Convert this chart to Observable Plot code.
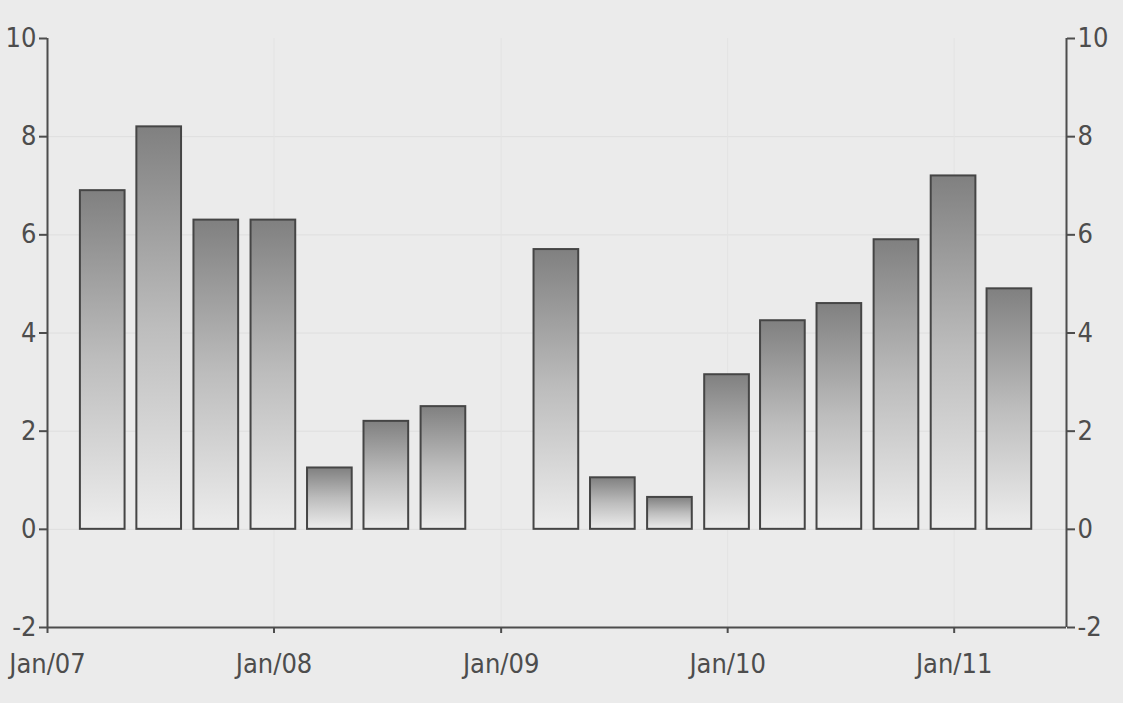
<!DOCTYPE html>
<html>
<head>
<meta charset="utf-8">
<script src="https://cdn.jsdelivr.net/npm/d3@7"></script>
<script src="https://cdn.jsdelivr.net/npm/@observablehq/plot@0.6"></script>
<style>
  html, body { margin: 0; padding: 0; background: #ebebeb; }
  #chart svg { display: block; }
</style>
</head>
<body>
<div id="chart"></div>
<script>
// Quarter-end dates (Dec 2008 has no bar)
const quarters = [
  "2007-03-31", "2007-06-30", "2007-09-30", "2007-12-31",
  "2008-03-31", "2008-06-30", "2008-09-30",
  "2009-03-31", "2009-06-30", "2009-09-30", "2009-12-31",
  "2010-03-31", "2010-06-30", "2010-09-30", "2010-12-31",
  "2011-03-31"
];
const values = [6.9, 8.2, 6.3, 6.3, 1.25, 2.2, 2.5, 5.7, 1.05, 0.65, 3.15, 4.25, 4.6, 5.9, 7.2, 4.9];
const xDomain = ["2007-01-01", "2011-07-01"];
const xTicks = ["2007-01-01", "2008-01-01", "2009-01-01", "2010-01-01", "2011-01-01"];
const yTicks = [-2, 0, 2, 4, 6, 8, 10];

const data = quarters.map((q, i) => ({date: new Date(q), value: values[i]}));
const domain = xDomain.map(d => new Date(d));
const ticks = xTicks.map(d => new Date(d));

const ink = "#4d4d4d";
const font = '"DejaVu Sans Condensed", "Liberation Sans Narrow", "DejaVu Sans", sans-serif';

const chart = Plot.plot({
  width: 1123,
  height: 703,
  marginLeft: 47,
  marginRight: 57,
  marginTop: 38,
  marginBottom: 76,
  style: {background: "#ebebeb", color: ink, fontFamily: font, fontSize: "27px", fontStretch: "condensed"},
  x: {type: "utc", domain},
  y: {domain: [-2, 10]},
  marks: [
    Plot.gridY(yTicks.filter(d => d > -2 && d < 10), {stroke: "#dedede", strokeOpacity: 1}),
    Plot.gridX(ticks.slice(1), {stroke: "#e3e3e3", strokeOpacity: 1}),
    Plot.rectY(data, {
      x1: d => d3.utcDay.offset(d.date, -36),
      x2: d => d3.utcDay.offset(d.date, 36),
      y1: 0,
      y2: "value",
      fill: "url(#barGrad)",
      stroke: "#454545",
      strokeWidth: 2
    }),
    Plot.ruleY([-2], {stroke: ink, strokeWidth: 2}),
    Plot.ruleX([domain[0], domain[1]], {stroke: ink, strokeWidth: 2}),
    Plot.axisY({anchor: "left", ticks: yTicks, tickSize: 8, tickPadding: 3, tickFormat: d => String(d), label: null, strokeWidth: 2}),
    Plot.axisY({anchor: "right", ticks: yTicks, tickSize: 8, tickPadding: 3, tickFormat: d => String(d), label: null, strokeWidth: 2}),
    Plot.axisX({ticks, tickSize: 6, tickPadding: 20, tickFormat: d3.utcFormat("%b/%y"), label: null, strokeWidth: 2})
  ]
});

const defs = d3.select(chart).insert("defs", ":first-child");
const grad = defs.append("linearGradient")
  .attr("id", "barGrad")
  .attr("x1", 0).attr("y1", 0).attr("x2", 0).attr("y2", 1);
grad.append("stop").attr("offset", "0%").attr("stop-color", "#808080");
grad.append("stop").attr("offset", "50%").attr("stop-color", "#bdbdbd");
grad.append("stop").attr("offset", "100%").attr("stop-color", "#ededed");

document.getElementById("chart").appendChild(chart);
</script>
</body>
</html>
